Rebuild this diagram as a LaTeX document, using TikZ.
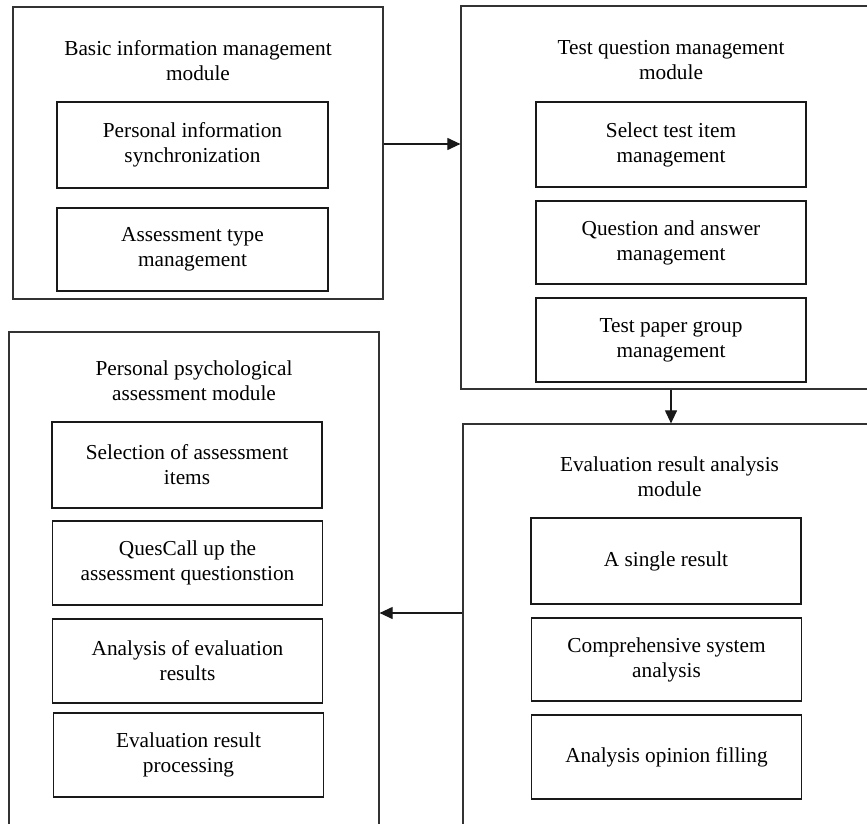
\documentclass[tikz,border=0pt]{standalone}
\usepackage{fontspec}
\setmainfont{Liberation Serif}
\usetikzlibrary{arrows.meta}
\begin{document}
\begin{tikzpicture}[x=1pt,y=-1pt,
  outerbox/.style={draw=black!80,line width=1.2pt,rectangle,inner sep=0pt},
  innerbox/.style={draw=black!90,line width=1.4pt,rectangle,inner sep=0pt,minimum width=270pt,align=center,font=\fontsize{21.3}{25}\selectfont},
  titletext/.style={inner sep=0pt,align=center,font=\fontsize{21.3}{25}\selectfont},
  arr/.style={draw=black!90,line width=1.1pt,-{Triangle[length=13pt,width=12pt]}}]
\clip (0,0) rectangle (867,824);
\fill[white] (0,0) rectangle (867,824);
% module 1
\node[outerbox,minimum width=370pt,minimum height=292pt] (m1) at (198,153) {};
\node[titletext] (t1) at (198,60.5) {Basic information management\\module};
\node[innerbox,minimum width=271pt,minimum height=86pt] (b1a) at (192.5,145) {Personal information\\synchronization};
\node[innerbox,minimum width=271pt,minimum height=83pt] (b1b) at (192.5,249.5) {Assessment type\\management};
% module 2
\node[outerbox,minimum width=420pt,minimum height=383pt] (m2) at (671,197.5) {};
\node[titletext] (t2) at (671,60.5) {Test question management\\module};
\node[innerbox,minimum height=85pt] (b2a) at (671,144.5) {Select test item\\management};
\node[innerbox,minimum height=83pt] (b2b) at (671,242.5) {Question and answer\\management};
\node[innerbox,minimum height=84pt] (b2c) at (671,340) {Test paper group\\management};
% module 3
\node[outerbox,minimum width=370pt,minimum height=520pt] (m3) at (194,592) {};
\node[titletext] (t3) at (194,380.5) {Personal psychological\\assessment module};
\node[innerbox,minimum height=86pt] (b3a) at (187,465) {Selection of assessment\\items};
\node[innerbox,minimum height=84pt] (b3b) at (187.5,563) {QuesCall up the\\assessment questionstion};
\node[innerbox,minimum height=84pt] (b3c) at (187.5,661) {Analysis of evaluation\\results};
\node[innerbox,minimum height=84pt] (b3d) at (188.5,755) {Evaluation result\\processing};
% module 4
\node[outerbox,minimum width=413pt,minimum height=420pt] (m4) at (669.5,634) {};
\node[titletext] (t4) at (669.5,476.5) {Evaluation result analysis\\module};
\node[innerbox,minimum height=86pt] (b4a) at (666,561) {A single result};
\node[innerbox,minimum height=83pt] (b4b) at (666.5,659.5) {Comprehensive system\\analysis};
\node[innerbox,minimum height=84pt] (b4c) at (666.5,757) {Analysis opinion filling};
% connectors
\draw[arr] (m1.east |- 0,144) -- (m2.west |- 0,144);
\draw[arr] (m2.south) -- (m2.south |- m4.north);
\draw[arr] (m4.west |- 0,613) -- (m3.east |- 0,613);
\end{tikzpicture}
\end{document}
